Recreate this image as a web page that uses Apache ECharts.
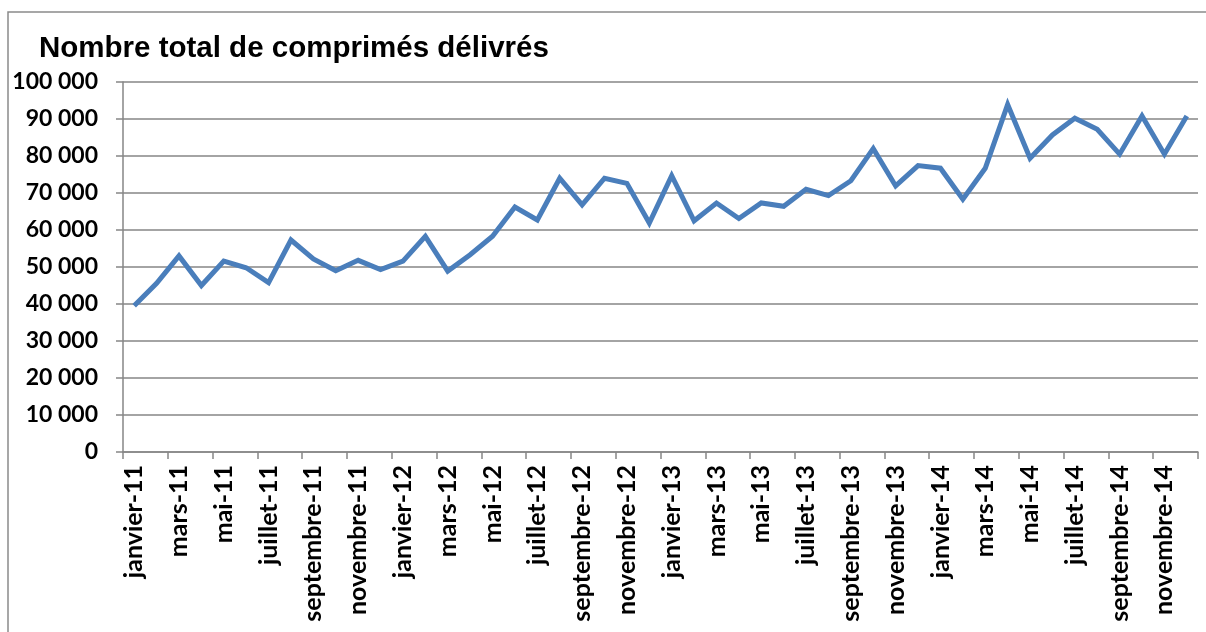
<!DOCTYPE html>
<html>
<head>
<meta charset="utf-8">
<script src="https://cdn.jsdelivr.net/npm/echarts@6/dist/echarts.min.js"></script>
<style>
  html, body { margin: 0; padding: 0; background: #ffffff; }
  #chart { width: 1206px; height: 632px; }
</style>
</head>
<body>
<div id="chart"></div>
<script>
const titleText = 'Nombre total de comprimés délivrés';

const categories = [
  'janvier-11', 'février-11', 'mars-11', 'avril-11', 'mai-11', 'juin-11',
  'juillet-11', 'août-11', 'septembre-11', 'octobre-11', 'novembre-11', 'décembre-11',
  'janvier-12', 'février-12', 'mars-12', 'avril-12', 'mai-12', 'juin-12',
  'juillet-12', 'août-12', 'septembre-12', 'octobre-12', 'novembre-12', 'décembre-12',
  'janvier-13', 'février-13', 'mars-13', 'avril-13', 'mai-13', 'juin-13',
  'juillet-13', 'août-13', 'septembre-13', 'octobre-13', 'novembre-13', 'décembre-13',
  'janvier-14', 'février-14', 'mars-14', 'avril-14', 'mai-14', 'juin-14',
  'juillet-14', 'août-14', 'septembre-14', 'octobre-14', 'novembre-14', 'décembre-14'
];

const comprimes = [
  39500, 45600, 53000, 45000, 51600, 49800, 45800, 57300, 52200, 49000, 51800, 49300,
  51600, 58300, 48900, 53300, 58300, 66200, 62700, 74000, 66800, 74000, 72600, 61900,
  74700, 62500, 67300, 63100, 67300, 66400, 71000, 69300, 73300, 82000, 71900, 77400,
  76700, 68300, 76700, 93900, 79400, 85700, 90200, 87200, 80500, 90800, 80500, 90800
];

const yMin = 0;
const yMax = 100000;
const yStep = 10000;

function fmtNum(v) {
  return String(v).replace(/\B(?=(\d{3})+(?!\d))/g, ' ');
}

const chart = echarts.init(document.getElementById('chart'), null, { renderer: 'canvas' });

const axisGray = '#868686';

chart.setOption({
  backgroundColor: '#ffffff',
  animation: false,
  graphic: [
    {
      type: 'rect',
      shape: { x: 8, y: 12, width: 1240, height: 660 },
      style: { fill: 'none', stroke: '#8a8a8a', lineWidth: 1.5 },
      z: 0
    }
  ],
  title: {
    text: titleText,
    left: 39,
    top: 34,
    padding: 0,
    textStyle: {
      fontFamily: '"Liberation Sans", Arial, sans-serif',
      fontWeight: 'bold',
      fontSize: 29.5,
      color: '#000000'
    }
  },
  grid: {
    left: 123,
    right: 8,
    top: 82,
    bottom: 180,
    containLabel: false,
    outerBoundsMode: 'none'
  },
  xAxis: {
    type: 'category',
    data: categories,
    boundaryGap: true,
    axisLine: { show: true, lineStyle: { color: axisGray, width: 1.5 } },
    axisTick: { show: true, interval: 1, length: 7, lineStyle: { color: axisGray, width: 1.5 } },
    axisLabel: {
      interval: 1,
      rotate: 90,
      margin: 13,
      fontFamily: 'Lato, "Open Sans", sans-serif',
      fontWeight: 'bold',
      fontSize: 25,
      color: '#000000'
    },
    splitLine: { show: false }
  },
  yAxis: {
    type: 'value',
    min: yMin,
    max: yMax,
    interval: yStep,
    axisLine: { show: true, lineStyle: { color: axisGray, width: 1.5 } },
    axisTick: { show: true, length: 7, lineStyle: { color: axisGray, width: 1.5 } },
    axisLabel: {
      margin: 25,
      formatter: fmtNum,
      fontFamily: 'Lato, "Open Sans", sans-serif',
      fontWeight: 'bold',
      fontSize: 23,
      color: '#000000'
    },
    splitLine: { show: true, lineStyle: { color: axisGray, width: 1.5 } }
  },
  series: [
    {
      type: 'line',
      data: comprimes,
      showSymbol: false,
      symbol: 'none',
      lineStyle: { color: '#4a7ebb', width: 5, join: 'miter' },
      itemStyle: { color: '#4a7ebb' },
      z: 3
    }
  ]
});
</script>
</body>
</html>
